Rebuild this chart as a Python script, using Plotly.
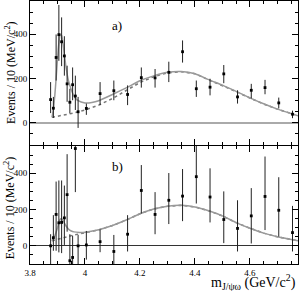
import plotly.graph_objects as go

# ---------------- data ----------------
mass_bins = [3.875, 3.885, 3.895, 3.905, 3.915, 3.925, 3.935, 3.945, 3.955, 3.965, 3.975,
             4.005, 4.055, 4.105, 4.155, 4.205, 4.255, 4.305, 4.355, 4.405, 4.455,
             4.505, 4.555, 4.605, 4.655, 4.705, 4.755]

events_a = [105, 66, 295, 398, 366, 302, 176, 93, 172, 121, 50,
            65, 132, 145, 128, 204, 203, 228, 321, 154, 161, 221, 117, 147, 159, 90, 39]
err_up_a = [79, 51, 104, 134, 110, 89, 82, 61, 78, 92, 67,
            22, 52, 46, 41, 46, 40, 48, 51, 37, 38, 40, 30, 29, 35, 24, 16]
err_dn_a = [61, 44, 104, 118, 110, 89, 81, 50, 70, 63, 73,
            29, 52, 43, 48, 45, 44, 44, 49, 37, 37, 42, 30, 37, 30, 25, 18]

events_b = [0, 45, 173, 127, 129, 154, 282, -82, -64, 536, 0,
            5, 23, -31, 64, 305, 173, 251, 274, 381, 269, 145, 96, 165, 272, 196, 73]
err_up_b = [64, 124, 181, 233, 231, 178, 223, 146, 120, 220, 60,
            77, 68, 91, 105, 140, 123, 150, 149, 190, 158, 155, 155, 153, 220, 182, 147]
err_dn_b = [160, 72, 200, 163, 169, 149, 204, 140, 130, 240, 160,
            81, 58, 100, 95, 127, 109, 131, 138, 148, 140, 130, 127, 152, 185, 145, 104]

# fit curves
fit_x_a = [3.88, 3.885, 3.89, 3.895, 3.90, 3.905, 3.91, 3.915, 3.92, 3.925, 3.93, 3.94,
           3.95, 3.96, 3.975, 4.0, 4.025, 4.05, 4.1, 4.15, 4.2, 4.25, 4.3, 4.35, 4.4,
           4.45, 4.5, 4.55, 4.6, 4.65, 4.7, 4.775]
fit_y_a = [25, 60, 120, 200, 290, 360, 400, 395, 360, 310, 260, 190,
           150, 120, 100, 90, 92, 100, 128, 158, 190, 212, 228, 232, 222,
           195, 170, 142, 113, 86, 62, 32]
bkg_x_a = [3.88, 3.9, 3.95, 4.0, 4.05, 4.1, 4.15, 4.2, 4.25, 4.3, 4.35, 4.4,
           4.45, 4.5, 4.55, 4.6, 4.65, 4.7, 4.775]
bkg_y_a = [25, 30, 42, 58, 80, 110, 145, 182, 208, 226, 231, 222,
           194, 169, 141, 112, 85, 62, 32]

fit_x_b = [3.88, 3.89, 3.90, 3.905, 3.91, 3.915, 3.92, 3.93, 3.94, 3.95, 3.96, 3.98,
           4.0, 4.05, 4.1, 4.15, 4.2, 4.25, 4.3, 4.35, 4.4, 4.45, 4.5, 4.55, 4.6,
           4.65, 4.7, 4.775]
fit_y_b = [28, 55, 100, 128, 146, 150, 140, 112, 92, 82, 77, 74,
           75, 89, 112, 142, 177, 203, 218, 223, 214, 193, 165, 128, 97,
           70, 50, 28]
bkg_x_b = [3.88, 3.92, 3.96, 4.0, 4.05, 4.1, 4.15, 4.2, 4.25, 4.3, 4.35, 4.4,
           4.45, 4.5, 4.55, 4.6, 4.65, 4.7, 4.775]
bkg_y_b = [28, 45, 60, 72, 88, 112, 142, 177, 203, 218, 223, 214,
           193, 165, 128, 97, 70, 50, 28]

x_ticks = [3.8, 4.0, 4.2, 4.4, 4.6]
x_tick_text = ["3.8", "4", "4.2", "4.4", "4.6"]
y_ticks = [0, 200, 400]

# ---------------- figure ----------------
FONT = "Liberation Serif"
fig = go.Figure()

def add_panel(xref, yref, y, eu, ed, fx, fy, bx, by):
    fig.add_trace(go.Scatter(x=bx, y=by, mode="lines", xaxis=xref, yaxis=yref,
                             line=dict(color="#777777", width=1.5, dash="dot"),
                             showlegend=False, hoverinfo="skip"))
    fig.add_trace(go.Scatter(x=fx, y=fy, mode="lines", xaxis=xref, yaxis=yref,
                             line=dict(color="#999999", width=1.5, shape="spline",
                                       smoothing=0.5),
                             showlegend=False, hoverinfo="skip"))
    fig.add_trace(go.Scatter(x=mass_bins, y=y, mode="markers", xaxis=xref, yaxis=yref,
                             marker=dict(symbol="square", size=2.8, color="black"),
                             error_y=dict(type="data", symmetric=False, array=eu,
                                          arrayminus=ed, color="#222222",
                                          thickness=1, width=0),
                             showlegend=False))

add_panel("x", "y", events_a, err_up_a, err_dn_a, fit_x_a, fit_y_a, bkg_x_a, bkg_y_a)
add_panel("x2", "y2", events_b, err_up_b, err_dn_b, fit_x_b, fit_y_b, bkg_x_b, bkg_y_b)

axis_common = dict(showline=True, linecolor="black", linewidth=1, mirror="ticks",
                   ticks="inside", ticklen=6, tickcolor="black", showgrid=False,
                   automargin=False,
                   tickfont=dict(family=FONT, size=9, color="black"))

xrange = [3.8, 4.775]
fig.update_layout(
    width=300, height=291,
    margin=dict(l=30, r=2, t=1, b=27, autoexpand=False),
    plot_bgcolor="white", paper_bgcolor="white",
    xaxis=dict(**axis_common, domain=[0, 1], range=xrange, anchor="y",
               tickvals=x_ticks, showticklabels=False, zeroline=False,
               minor=dict(dtick=0.05, ticks="inside", ticklen=3, tickcolor="black")),
    yaxis=dict(**axis_common, domain=[0.4525, 1], range=[-100, 550], anchor="x",
               tickvals=y_ticks, zeroline=True, zerolinecolor="#aaaaaa", zerolinewidth=2,
               minor=dict(dtick=50, ticks="inside", ticklen=3, tickcolor="black")),
    xaxis2=dict(**axis_common, domain=[0, 1], range=xrange, anchor="y2",
                tickvals=x_ticks, ticktext=x_tick_text, zeroline=False,
                minor=dict(dtick=0.05, ticks="inside", ticklen=3, tickcolor="black")),
    yaxis2=dict(**axis_common, domain=[0, 0.4487], range=[-100, 550], anchor="x2",
                tickvals=y_ticks, zeroline=True, zerolinecolor="#333333", zerolinewidth=1,
                minor=dict(dtick=50, ticks="inside", ticklen=3, tickcolor="black")),
)

ytitle = "Events / 10 (MeV/c<sup>2</sup>)"
ann = [
    dict(text=ytitle, x=-0.075, y=0.73, xref="paper", yref="paper", textangle=-90,
         showarrow=False, font=dict(family=FONT, size=12, color="black"),
         xanchor="center", yanchor="middle"),
    dict(text=ytitle, x=-0.075, y=0.215, xref="paper", yref="paper", textangle=-90,
         showarrow=False, font=dict(family=FONT, size=12, color="black"),
         xanchor="center", yanchor="middle"),
    dict(text="a)", x=0.325, y=0.905, xref="paper", yref="paper", showarrow=False,
         font=dict(family=FONT, size=13, color="black"), xanchor="center", yanchor="middle"),
    dict(text="b)", x=0.325, y=0.372, xref="paper", yref="paper", showarrow=False,
         font=dict(family=FONT, size=13, color="black"), xanchor="center", yanchor="middle"),
    dict(text="m<sub>J/ψω</sub> (GeV/c<sup>2</sup>)", x=1.0, y=-0.069, xref="paper",
         yref="paper", showarrow=False, font=dict(family=FONT, size=14, color="black"),
         xanchor="right", yanchor="middle"),
]
fig.update_layout(annotations=ann)

fig.write_html("out.html", config={"displayModeBar": False},
               post_script="document.body.style.margin='0';document.body.style.padding='0';")
